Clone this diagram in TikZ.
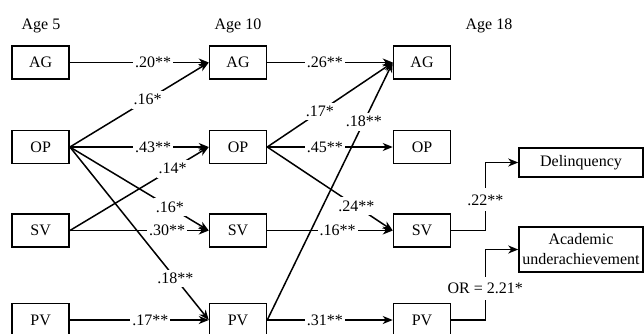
\documentclass[tikz,border=0pt]{standalone}
\usepackage{fontspec}
\setmainfont{Liberation Serif}
\usetikzlibrary{arrows.meta}
\begin{document}
\begin{tikzpicture}[x=1pt,y=-1pt,
  txt/.style={font=\fontsize{16}{20}\selectfont},
  box/.style={txt, draw, line width=1.5pt, minimum width=57pt, minimum height=33pt, inner sep=0pt},
  arr/.style={line width=1.5pt, -{Stealth[length=10pt,width=8pt,inset=3pt]}},
  lbl/.style={txt, fill=white, inner xsep=2pt, inner ysep=3.5pt},
  age/.style={txt, anchor=base}]
\clip (0,0) rectangle (644,333);
% age headers
\node[age] (h5) at (41,29) {Age 5};
\node[age] (h10) at (238,29) {Age 10};
\node[age] (h18) at (489,29) {Age 18};
% boxes
\node[box] (ag1) at (40.7,62.5) {AG};
\node[box] (op1) at (40.7,147) {OP};
\node[box] (sv1) at (40.7,230.5) {SV};
\node[box] (pv1) at (40.7,320) {PV};
\node[box] (ag2) at (238,62.5) {AG};
\node[box] (op2) at (238,147) {OP};
\node[box] (sv2) at (238,230.5) {SV};
\node[box] (pv2) at (238,320) {PV};
\node[box] (ag3) at (422,62.5) {AG};
\node[box] (op3) at (422,147) {OP};
\node[box] (sv3) at (422,230.5) {SV};
\node[box] (pv3) at (422,320) {PV};
\node[box, minimum width=124pt, minimum height=29pt] (del) at (581,162.5) {Delinquency};
\node[box, minimum width=124pt, minimum height=45pt, align=center] (acad) at (581,249.5) {Academic\\underachievement};
% age 5 -> age 10
\draw[arr] (ag1.east) -- node[lbl,pos=0.60]{.20**} (ag2.west);
\draw[arr] (op1.east) -- node[lbl,pos=0.56]{.16*} (ag2.west);
\draw[arr] (op1.east) -- node[lbl,pos=0.60]{.43**} (op2.west);
\draw[arr] (op1.east) -- node[lbl,pos=0.72]{.16*} (sv2.west);
\draw[arr] (op1.east) -- node[lbl,pos=0.76]{.18**} (pv2.west);
\draw[arr] (sv1.east) -- node[lbl,pos=0.74]{.14*} (op2.west);
\draw[arr] (sv1.east) -- node[lbl,pos=0.70]{.30**} (sv2.west);
\draw[arr] (pv1.east) -- node[lbl,pos=0.58]{.17**} (pv2.west);
% age 10 -> age 18
\draw[arr] (ag2.east) -- node[lbl,pos=0.46]{.26**} (ag3.west);
\draw[arr] (op2.east) -- node[lbl,pos=0.42]{.17*} (ag3.west);
\draw[arr] (pv2.east) -- node[lbl,pos=0.77]{.18**} (ag3.west);
\draw[arr] (op2.east) -- node[lbl,pos=0.46]{.45**} (op3.west);
\draw[arr] (op2.east) -- node[lbl,pos=0.71]{.24**} (sv3.west);
\draw[arr] (sv2.east) -- node[lbl,pos=0.56]{.16**} (sv3.west);
\draw[arr] (pv2.east) -- node[lbl,pos=0.46]{.31**} (pv3.west);
% outcomes
\draw[arr] (sv3.east) -- ++(34,0) coordinate (k1) -- node[lbl,pos=0.45,inner ysep=6pt]{.22**} (k1 |- del.west) -- (del.west);
\draw[arr] (pv3.east) -- ++(34,0) coordinate (k2) -- node[lbl,pos=0.45,inner ysep=6pt]{OR = 2.21*} (k2 |- acad.west) -- (acad.west);
\end{tikzpicture}
\end{document}
